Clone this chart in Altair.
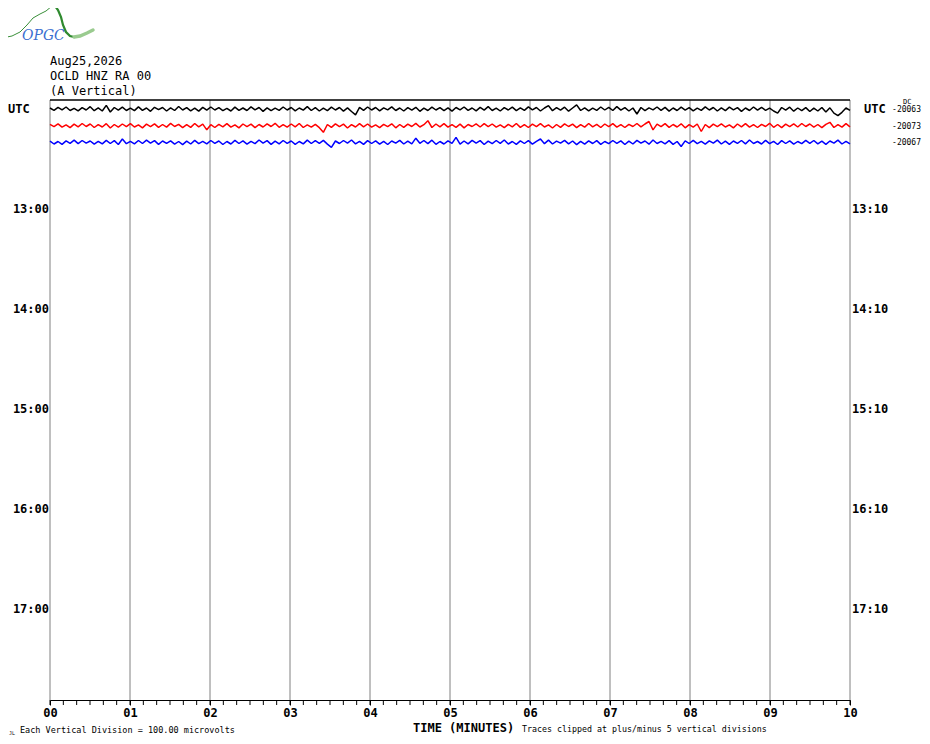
import altair as alt
import pandas as pd

# helicorder header
title_lines = ["Aug25,2026", "OCLD HNZ RA 00", "(A Vertical)"]

# one trace per 10-minute line, amplitudes in microvolts (3 s samples)
trace_black = [
    6, -8, 10, -5, 12, -9, 4, -11, 8, -6, 14, -10, 7, -12, 22, -18, 9, -7, 11, -9,
    5, -10, 13, -8, 6, -14, 10, -4, 9, -12, 7, -9, 15, -6, 8, -11, 5, -13, 10, -7,
    12, -6, 8, -10, 4, -12, 11, -8, 6, -9, 13, -5, 9, -14, 7, -10, 5, -8, 12, -6,
    9, -11, 6, -7, 14, -9, 8, -12, 5, -10, 11, -6, 9, -13, 7, -15, -35, 10, -8, 12,
    -6, 9, -11, 7, -5, 13, -9, 6, -12, 8, -7, 10, -14, 5, -9, 11, -6, 8, -10, 7,
    -13, 9, -5, 12, -8, 6, -11, 10, -7, 14, -9, 5, -12, 8, -6, 11, -10, 7, -8, 13,
    -5, 9, -12, 6, 20, -10, 8, -7, 11, -13, 6, 25, -9, 7, -11, 5, -8, 12, -6, 10,
    -9, 14, -7, 8, -12, 6, -30, 9, -10, 7, -5, 12, -8, 10, -13, 6, -9, 11, -7, 8,
    -11, 5, -8, 13, -6, 9, -12, 7, -10, 11, -5, 8, -14, 6, -9, 12, -7, 10, -8, 5,
    -12, -25, 9, -7, 11, -13, 6, -10, 8, -15, 5, -12, 9, -18, 7, -25, -40, -20, 6, -8,
]
trace_red = [
    8, -6, 11, -9, 5, -12, 9, -7, 13, -5, 10, -11, 6, -8, 12, -14, 7, -9, 10, -6,
    12, -8, 5, -13, 9, -6, 11, -10, 7, -9, 14, -5, 8, -12, 6, -10, 13, -7, 9, -25,
    6, -11, 8, -7, 12, -9, 5, -13, 10, -6, 9, -12, 7, -8, 11, -5, 14, -10, 6, -9,
    10, -7, 13, -11, 5, -9, 8, -12, -40, 7, -10, 11, -6, 9, -14, 6, -8, 12, -7, 10,
    -9, 5, -12, 8, -6, 11, -13, 7, -10, 9, -5, 14, -8, 6, 30, -11, 10, -7, 12, -9,
    6, -10, 9, -13, 7, -5, 11, -8, 12, -6, 10, -9, 5, -12, 8, -7, 13, -10, 6, -11,
    9, -6, 12, -8, 5, -14, 7, -10, 11, -5, 9, -12, 6, -9, 13, -7, 8, -11, 10, -6,
    12, -9, 6, -11, 8, -5, 13, -7, 10, 25, -25, 9, -6, 12, -10, 7, -8, 11, -13, 6,
    -9, 10, -35, 7, -12, 9, -6, 11, -8, 5, -13, 10, -7, 12, -9, 6, -11, 8, -5, 14,
    -10, 7, -12, 9, -6, 11, -8, 13, -5, 10, -9, 7, -12, 8, 20, -11, 6, -9, 12, -7,
]
trace_blue = [
    7, -10, 5, -12, 9, -6, 13, -8, 11, -5, 8, -11, 6, -9, 12, -7, 10, -13, 20, -8,
    6, -9, 11, -7, 13, -5, 10, -12, 8, -6, 9, -11, 5, -14, 7, -10, 12, -8, 6, -9,
    11, -6, 8, -13, 5, -10, 12, -7, 9, -11, 6, -8, 14, -5, 10, -12, 7, -9, 11, -6,
    8, -12, 5, -9, 13, -7, 10, -6, 12, -11, -30, 8, -7, 11, -5, 14, -9, 6, -12, 10,
    -7, 9, -11, 6, -13, 8, -5, 12, -10, 7, -9, 25, -6, 11, -8, 13, -12, 5, -10, 9,
    -6, 30, -11, 8, -9, 12, -5, 10, -13, 7, -8, 11, -6, 14, -10, 5, -12, 9, -7, 10,
    -11, 6, 20, -8, 13, -10, 7, -5, 12, -9, 8, -14, 6, -11, 9, -7, 10, -12, 5, -8,
    11, -6, 9, -13, 7, -10, 12, -5, 8, -11, 14, -7, 6, -9, 10, -12, 5, -25, 9, -7,
    12, -8, 6, -11, 9, -5, 13, -10, 7, -12, 8, -6, 11, -9, 14, -7, 5, -10, 12, -8,
    6, -13, 10, -7, 9, -11, 5, -8, 12, -6, 11, -9, 7, -12, 8, -5, 13, -10, 6, -9,
]
trace_names = ["12:00", "12:10", "12:20"]
trace_rows = [0, 1, 2]
trace_colors = ["#000000", "#ff0000", "#0000ff"]
dc_values = ["-20063", "-20073", "-20067"]
division_uv = 100.0

# time axis: labelled minutes, small ticks every 10 seconds
minutes = list(range(11))
seconds_ticks = [s / 60 for s in range(0, 601, 10)]
hour_rows = [6, 12, 18, 24, 30]
left_labels = ["13:00", "14:00", "15:00", "16:00", "17:00"]
right_labels = ["13:10", "14:10", "15:10", "16:10", "17:10"]

# OPGC logo outline (page pixels)
logo_x = [2, 12, 20, 27, 33, 40, 46, 52, 55, 55, 58, 61, 63, 66, 70, 74, 74, 80, 87, 93]
logo_y = [38, 36, 32, 25, 18, 14, 11, 6, 3, 6, 10, 17, 25, 32, 36, 37, 37, 36, 33, 30]
logo_part = ["thin"] * 9 + ["thick"] * 7 + ["tail"] * 4

FONT = "DejaVu Sans Mono"
W, H = 800, 600

rows = []
for name, row, vals in zip(trace_names, trace_rows, [trace_black, trace_red, trace_blue]):
    n = len(vals)
    for i, v in enumerate(vals):
        rows.append({"trace": name, "t": i * 10 / (n - 1), "y": row - v / division_uv})
traces = pd.DataFrame(rows)

yscale = alt.Scale(domain=[-0.54, 35.46], reverse=True, nice=False, zero=False)
xscale = alt.Scale(domain=[0, 10], nice=False, zero=False)

xenc = alt.X("t:Q", scale=xscale,
             axis=alt.Axis(values=minutes, labelExpr="datum.value < 10 ? '0' + datum.value : '' + datum.value",
                           tickSize=5, tickColor="black", domainColor="black", grid=False, title=None,
                           labelOverlap=False, labelFont=FONT, labelFontWeight="bold", labelFontSize=12,
                           labelColor="black", labelPadding=2, labelFlush=False))

lines = alt.Chart(traces).mark_line(strokeWidth=1.5, strokeJoin="bevel").encode(
    x=xenc,
    y=alt.Y("y:Q", scale=yscale, axis=None),
    color=alt.Color("trace:N", scale=alt.Scale(domain=trace_names, range=trace_colors), legend=None),
)

grid = alt.Chart(pd.DataFrame({"t": minutes})).mark_rule(color="#808080", strokeWidth=1).encode(
    x="t:Q", y=alt.value(0), y2=alt.value(H)
)
minor = alt.Chart(pd.DataFrame({"t": seconds_ticks})).mark_rule(color="black", strokeWidth=1).encode(
    x="t:Q", y=alt.value(H), y2=alt.value(H + 5)
)
top = alt.Chart(pd.DataFrame({"t": [0]})).mark_rule(color="black", strokeWidth=1.5).encode(
    x=alt.value(0), x2=alt.value(W), y=alt.value(0)
)

hours = pd.DataFrame({"row": hour_rows, "left": left_labels, "right": right_labels})
lab_style = dict(font=FONT, fontWeight="bold", fontSize=12, color="black", baseline="middle")
left_lab = alt.Chart(hours).mark_text(align="right", **lab_style).encode(
    x=alt.value(-1), y=alt.Y("row:Q", scale=yscale), text="left:N")
right_lab = alt.Chart(hours).mark_text(align="left", **lab_style).encode(
    x=alt.value(802), y=alt.Y("row:Q", scale=yscale), text="right:N")

utc = pd.DataFrame({"row": [0], "txt": ["UTC"]})
utc_left = alt.Chart(utc).mark_text(align="left", **lab_style).encode(
    x=alt.value(-42), y=alt.Y("row:Q", scale=yscale), text="txt:N")
utc_right = alt.Chart(utc).mark_text(align="left", **lab_style).encode(
    x=alt.value(814), y=alt.Y("row:Q", scale=yscale), text="txt:N")

dc = pd.DataFrame({"row": trace_rows, "txt": dc_values})
dc_lab = alt.Chart(dc).mark_text(align="right", baseline="middle", font=FONT, fontSize=8,
                                 color="black", dy=1).encode(
    x=alt.value(871), y=alt.Y("row:Q", scale=yscale), text="txt:N")
dc_head = alt.Chart(utc).mark_text(align="left", baseline="middle", font=FONT, fontSize=7,
                                   color="black", text="DC").encode(
    x=alt.value(853), y=alt.value(2))

small = dict(font=FONT, color="black", baseline="middle", align="left")
head = [alt.Chart(utc).mark_text(fontSize=12, text=txt, **small).encode(
            x=alt.value(0), y=alt.value(yy))
        for txt, yy in zip(title_lines, [-39, -24, -9])]
foot = [
    alt.Chart(utc).mark_text(fontSize=12, fontWeight="bold", text="TIME (MINUTES)", **small).encode(
        x=alt.value(363), y=alt.value(628)),
    alt.Chart(utc).mark_text(fontSize=8.5, text="Each Vertical Division =  100.00 microvolts",
                             **small).encode(x=alt.value(-30), y=alt.value(630)),
    alt.Chart(utc).mark_text(fontSize=8.3, text="Traces clipped at plus/minus 5 vertical divisions",
                             **small).encode(x=alt.value(472), y=alt.value(630)),
    alt.Chart(utc).mark_text(fontSize=5, text="JL", **small).encode(
        x=alt.value(-41), y=alt.value(633)),
]

main = alt.layer(grid, minor, top, lines, left_lab, right_lab, utc_left, utc_right, dc_lab, dc_head,
                 *head, *foot)

logo_df = pd.DataFrame({"x": logo_x, "y": logo_y, "part": logo_part})
logo_line = alt.Chart(logo_df).mark_line(strokeCap="round").encode(
    x=alt.X("x:Q", scale=alt.Scale(domain=[0, 100], range=[-50, 50]), axis=None),
    y=alt.Y("y:Q", scale=alt.Scale(domain=[0, 100], range=[-100, 0]), axis=None),
    color=alt.Color("part:N", scale=alt.Scale(domain=["thin", "thick", "tail"],
                                              range=["#3a8f3a", "#2f8a2f", "#9acb8f"]), legend=None),
    size=alt.Size("part:N", scale=alt.Scale(domain=["thin", "thick", "tail"], range=[1, 3.5, 1.5]),
                  legend=None),
    detail="part:N",
)
logo_text = alt.Chart(utc).mark_text(font="DejaVu Serif", fontStyle="italic", fontSize=14,
                                     color="#3b6fd0", align="left", baseline="middle",
                                     text="OPGC").encode(x=alt.value(-28), y=alt.value(-64))

chart = alt.layer(main, logo_line, logo_text).resolve_scale(
    x="independent", y="independent", color="independent", size="independent"
).properties(
    width=W, height=H, autosize="none",
    padding={"left": 42, "top": 92, "right": 72, "bottom": 36},
).configure_view(stroke=None)

chart.save("out.html", embed_options={"renderer": "svg", "actions": False})
